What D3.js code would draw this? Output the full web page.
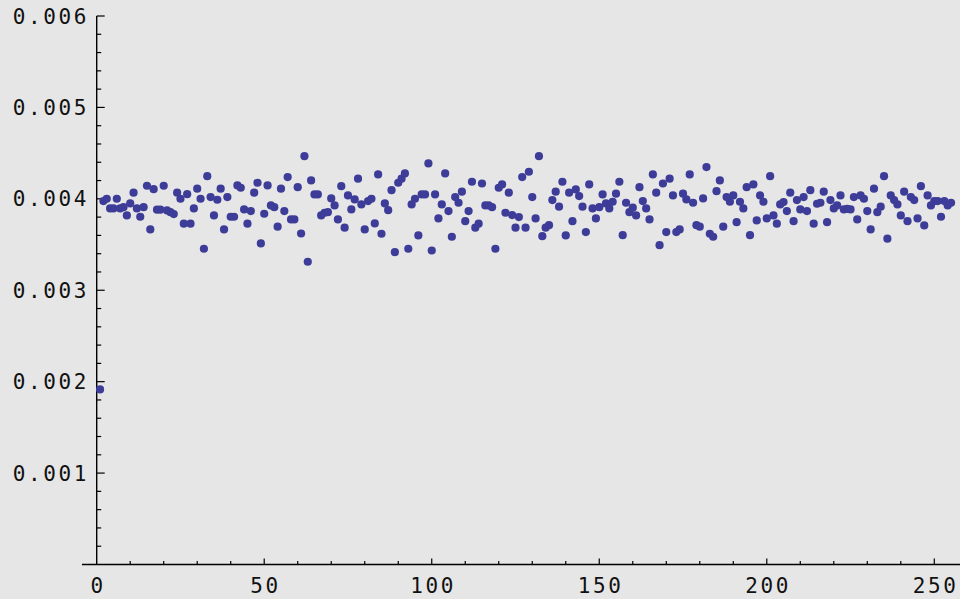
<!DOCTYPE html>
<html>
<head>
<meta charset="utf-8">
<script src="https://cdn.jsdelivr.net/npm/d3@7"></script>
<style>
  body { margin: 0; background: #e6e6e6; }
  svg { display: block; }
  .tick-label { font-family: "DejaVu Sans Mono", monospace; font-size: 21px; fill: #111; letter-spacing: 2.6px; }
</style>
</head>
<body>
<svg id="chart" width="960" height="599"></svg>
<script>
// values, in thousandths (x = 1, 2, 3 ...)
var valueUnit = 0.001
var values = [
  1.915, 3.975, 4.001, 3.895, 3.895, 4.001, 3.895, 3.909, 3.818, 3.950,
  4.067, 3.895, 3.804, 3.909, 4.143, 3.665, 4.106, 3.881, 3.881, 4.143,
  3.873, 3.854, 3.833, 4.067, 4.001, 3.728, 4.051, 3.728, 3.895, 4.111,
  4.001, 3.454, 4.248, 4.019, 3.818, 3.990, 4.111, 3.665, 4.019, 3.804,
  3.804, 4.147, 4.121, 3.884, 3.728, 3.866, 4.067, 4.176, 3.512, 3.837,
  4.147, 3.928, 3.909, 3.695, 4.111, 3.866, 4.238, 3.775, 3.775, 4.128,
  3.621, 4.467, 3.312, 4.201, 4.048, 4.048, 3.818, 3.848, 3.854, 4.004,
  3.928, 3.775, 4.139, 3.684, 4.037, 3.884, 3.993, 4.220, 3.939, 3.665,
  3.975, 4.001, 3.731, 4.267, 3.618, 3.950, 3.876, 4.095, 3.417, 4.176,
  4.220, 4.278, 3.454, 3.939, 4.001, 3.600, 4.048, 4.048, 4.387, 3.435,
  4.048, 3.786, 3.939, 4.278, 3.866, 3.585, 4.019, 3.957, 4.078, 3.756,
  3.866, 4.187, 3.684, 3.728, 4.168, 3.928, 3.928, 3.909, 3.454, 4.121,
  4.158, 3.848, 4.067, 3.822, 3.684, 3.800, 4.238, 3.684, 4.296, 4.019,
  3.786, 4.467, 3.592, 3.684, 3.712, 3.986, 4.078, 3.914, 4.187, 3.600,
  4.067, 3.756, 4.103, 4.030, 3.914, 3.636, 4.158, 3.895, 3.786, 3.909,
  4.048, 3.950, 3.895, 3.968, 4.056, 4.187, 3.603, 3.957, 3.854, 3.903,
  3.818, 4.128, 3.975, 3.895, 3.775, 4.267, 4.067, 3.493, 4.168, 3.636,
  4.220, 4.037, 3.636, 3.665, 4.056, 3.993, 4.267, 3.957, 3.712, 3.695,
  4.004, 4.347, 3.618, 3.585, 4.084, 4.201, 3.695, 4.019, 3.968, 4.037,
  3.745, 3.968, 3.895, 4.128, 3.603, 4.158, 3.764, 4.037, 3.968, 3.786,
  4.248, 3.818, 3.728, 3.939, 3.964, 3.866, 4.067, 3.756, 3.986, 3.884,
  4.019, 3.866, 4.095, 3.728, 3.946, 3.957, 4.078, 3.745, 3.986, 3.895,
  3.928, 4.037, 3.884, 3.891, 3.884, 4.019, 3.775, 4.037, 4.001, 3.866,
  3.665, 4.111, 3.854, 3.914, 4.248, 3.564, 4.037, 3.986, 3.939, 3.818,
  4.078, 3.756, 4.019, 3.986, 3.786, 4.139, 3.709, 4.037, 3.928, 3.975,
  3.975, 3.804, 3.975, 3.928, 3.957
]
var xTicks = [0, 50, 100, 150, 200, 250]
var xMinorTicks = d3.range(10, 260, 10).filter(function(d){ return d % 50 != 0 })
var yTicks = [0.001, 0.002, 0.003, 0.004, 0.005, 0.006]
var yMinorTicks = d3.range(1, 30).map(function(d){ return d * 0.0002 })
    .filter(function(d){ return Math.abs(d / 0.001 - Math.round(d / 0.001)) > 0.01 })

var svg = d3.select("#chart")
var xScale = d3.scaleLinear().domain([0, 250]).range([96.7, 934.3])
var yScale = d3.scaleLinear().domain([0, 0.006]).range([564.5, 16])

// axes lines
svg.append("line")
    .attr("x1", xScale(-4.4)).attr("x2", xScale(262))
    .attr("y1", yScale(0)).attr("y2", yScale(0))
    .attr("stroke", "#000").attr("stroke-width", 1.4)
svg.append("line")
    .attr("x1", xScale(0)).attr("x2", xScale(0))
    .attr("y1", yScale(0)).attr("y2", yScale(0.006))
    .attr("stroke", "#000").attr("stroke-width", 1.4)

// x ticks point up
svg.selectAll(".xmajor").data(xTicks.filter(function(d){ return d > 0 })).enter().append("line")
    .attr("class", "xmajor")
    .attr("x1", function(d){ return xScale(d) }).attr("x2", function(d){ return xScale(d) })
    .attr("y1", yScale(0)).attr("y2", yScale(0) - 6)
    .attr("stroke", "#000").attr("stroke-width", 1.2)
svg.selectAll(".xminor").data(xMinorTicks).enter().append("line")
    .attr("class", "xminor")
    .attr("x1", function(d){ return xScale(d) }).attr("x2", function(d){ return xScale(d) })
    .attr("y1", yScale(0)).attr("y2", yScale(0) - 3.5)
    .attr("stroke", "#000").attr("stroke-width", 1.2)
svg.selectAll(".xlabel").data(xTicks).enter().append("text")
    .attr("class", "tick-label")
    .attr("x", function(d){ return xScale(d) + 1.3 })
    .attr("y", 593)
    .attr("text-anchor", "middle")
    .text(function(d){ return d })

// y ticks point right
svg.selectAll(".ymajor").data(yTicks).enter().append("line")
    .attr("class", "ymajor")
    .attr("x1", xScale(0)).attr("x2", xScale(0) + 8)
    .attr("y1", function(d){ return yScale(d) }).attr("y2", function(d){ return yScale(d) })
    .attr("stroke", "#000").attr("stroke-width", 1.2)
svg.selectAll(".yminor").data(yMinorTicks).enter().append("line")
    .attr("class", "yminor")
    .attr("x1", xScale(0)).attr("x2", xScale(0) + 4.5)
    .attr("y1", function(d){ return yScale(d) }).attr("y2", function(d){ return yScale(d) })
    .attr("stroke", "#000").attr("stroke-width", 1.2)
svg.selectAll(".ylabel").data(yTicks).enter().append("text")
    .attr("class", "tick-label")
    .attr("x", 89)
    .attr("y", function(d){ return yScale(d) + 7.5 })
    .attr("text-anchor", "end")
    .text(function(d){ return d3.format(".3f")(d) })

// points
svg.selectAll(".dot").data(values).enter().append("circle")
    .attr("class", "dot")
    .attr("cx", function(d, i){ return xScale(i + 1) })
    .attr("cy", function(d){ return yScale(d * valueUnit) })
    .attr("r", 4.1)
    .attr("fill", "#3d3d99")
</script>
</body>
</html>
